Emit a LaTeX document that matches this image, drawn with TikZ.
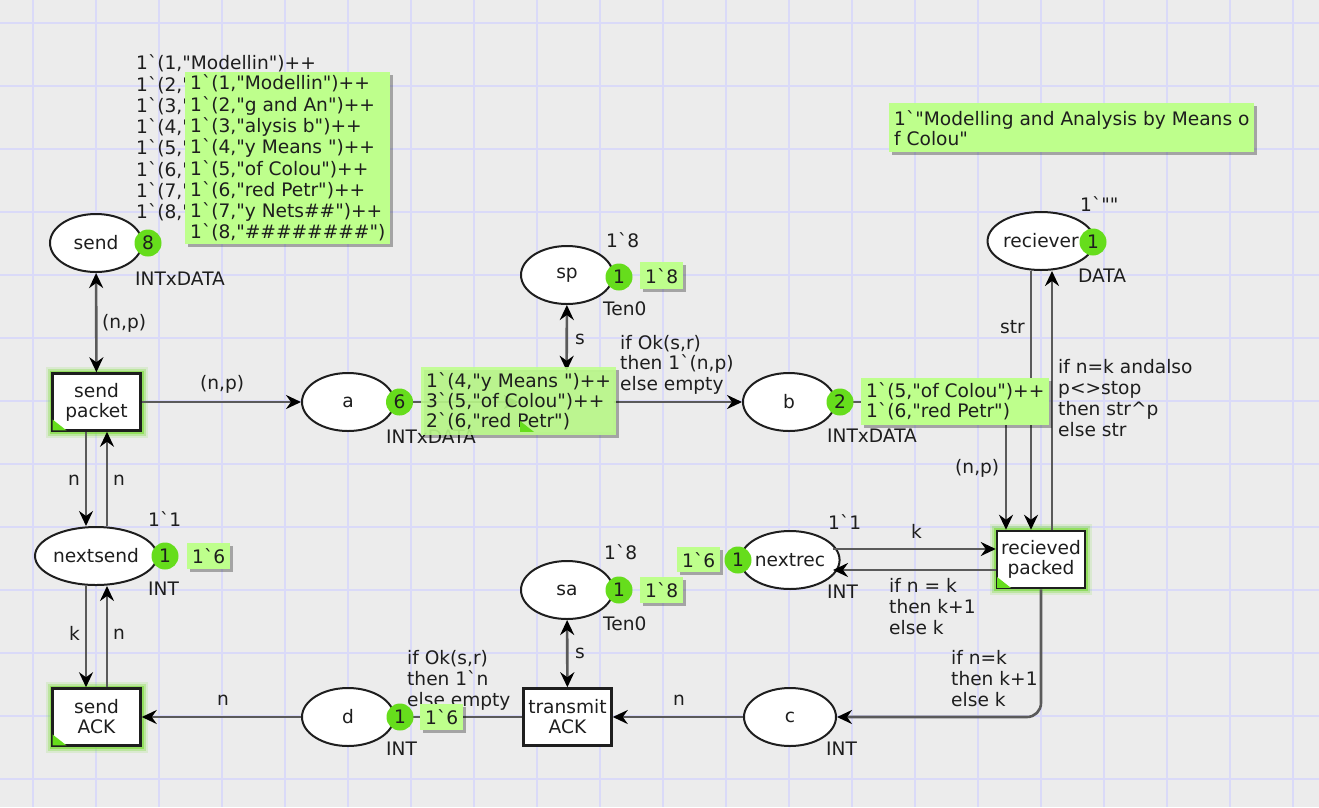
\documentclass[tikz,border=0pt]{standalone}
\usepackage{fontspec}
\setmainfont{DejaVu Sans}[Ligatures=TeXOff]
\usetikzlibrary{arrows.meta,shapes.geometric,calc,shadows}

\definecolor{canvas}{RGB}{236,236,236}
\definecolor{gridline}{RGB}{218,218,248}
\definecolor{arcgray}{RGB}{90,90,90}
\definecolor{tokengreen}{RGB}{102,221,28}
\definecolor{markgreen}{RGB}{190,255,140}
\definecolor{glowgreen}{RGB}{120,220,50}
\definecolor{ink}{RGB}{30,30,30}

\tikzset{
  cpnfont/.style={font=\fontsize{18.6}{#1}\selectfont},
  cpnfont/.default=20,
  place/.style={ellipse, draw=ink, line width=2pt, fill=white,
    minimum width=92pt, minimum height=58pt, inner sep=0pt, cpnfont, text=ink},
  trans/.style={rectangle, draw=ink, line width=2.5pt, fill=white,
    minimum width=88pt, minimum height=57pt, inner sep=0pt, align=center,
    cpnfont, text=ink},
  enabled/.style={
    preaction={draw=glowgreen, line width=14pt, opacity=0.15},
    preaction={draw=glowgreen, line width=10pt, opacity=0.3},
    preaction={draw=glowgreen, line width=6pt, opacity=0.6}},
  token/.style={circle, fill=tokengreen, minimum size=27pt, inner sep=0pt,
    cpnfont, text=ink},
  markbox/.style={fill=markgreen, anchor=north west, inner xsep=5pt,
    inner ysep=0pt, align=left, text=ink,
    drop shadow={shadow xshift=2.5pt, shadow yshift=-2.5pt, fill=black, opacity=0.3}},
  lbl/.style={anchor=north west, inner sep=0pt, yshift=8.3pt, align=left,
    text=ink, execute at begin node=\strut},
  arctip/.tip={Stealth[length=15pt, width=14pt, inset=5pt, color=black]},
  arc/.style={draw=arcgray, line width=2.6pt, -arctip},
  arcboth/.style={draw=arcgray, line width=2.6pt, arctip-arctip},
}

\newcommand{\enabledmark}[1]{%
  \fill[tokengreen] ([shift={(1.3,-1.3)}]#1.south west) -- ++(14,0) -- ++(-14,-11) -- cycle;}

\begin{document}
\begin{tikzpicture}[x=1pt, y=-1pt]
  \useasboundingbox (0,0) rectangle (1319,807);
  % canvas and grid
  \fill[canvas] (0,0) rectangle (1319,807);
  \foreach \gx in {33,96,...,1300} \draw[gridline, line width=2pt] (\gx,0) -- (\gx,807);
  \foreach \gy in {23,86,...,807} \draw[gridline, line width=2pt] (0,\gy) -- (1319,\gy);

  % places
  \node[place] (send) at (96,243) {send};
  \node[place] (sp) at (567,275) {sp};
  \node[place] (a) at (348,402) {a};
  \node[place] (b) at (789,402) {b};
  \node[place] (recv) at (1041,241) {reciever};
  \node[place, minimum width=122pt] (nextsend) at (96,556) {nextsend};
  \node[place] (nextrec) at (790,560) {nextrec};
  \node[place] (sa) at (567,590) {sa};
  \node[place] (d) at (348,717) {d};
  \node[place] (c) at (790,717) {c};

  % transitions
  \node[trans, enabled] (sendpkt) at (96.5,402) {send\\packet};
  \node[trans, enabled] (sendack) at (96.5,717) {send\\ACK};
  \node[trans] (tack) at (567.5,717) {transmit\\ACK};
  \node[trans, enabled] (recpk) at (1041,559.5) {recieved\\packed};
  \node[trans, draw=none, minimum width=93pt, minimum height=60pt] (tpkt) at (566.5,402) {};
  \enabledmark{sendpkt}
  \enabledmark{sendack}
  \enabledmark{recpk}

  % arcs
  \draw[arcboth] (send) -- (sendpkt);
  \draw[arc] (sendpkt) -- (a);
  \draw[arc] (a) -- (tpkt);
  \draw[arc] (tpkt) -- (b);
  \draw[arcboth] (sp) -- (tpkt);
  \draw[arc] (b.east) -| ([xshift=-35pt]recpk.north);
  \draw[arc] ([xshift=-10pt]recv.south) -- ([xshift=-10pt]recpk.north);
  \draw[arc] ([xshift=11pt]recpk.north) -- ([xshift=11pt]recv.south);
  \draw[arc] ($(nextrec.center)+(42.5,-11)$) -- ([yshift=10.5pt]recpk.west);
  \draw[arc] ([yshift=-10.5pt]recpk.west) -- ($(nextrec.center)+(43,10)$);
  \draw[arc, rounded corners=14pt] (recpk.south) |- (c.east);
  \draw[arc] (c) -- (tack);
  \draw[arcboth] (sa) -- (tack);
  \draw[arc] (tack) -- (d);
  \draw[arc] (d) -- (sendack);
  \draw[arc] ([xshift=-10.5pt]sendpkt.south) -- ([xshift=-10pt]nextsend.north);
  \draw[arc] ([xshift=11pt]nextsend.north) -- ([xshift=10.5pt]sendpkt.south);
  \draw[arc] ([xshift=-10pt]nextsend.south) -- ([xshift=-10.5pt]sendack.north);
  \draw[arc] ([xshift=10.5pt]sendack.north) -- ([xshift=11pt]nextsend.south);

  % token counts
  \node[token] (send-tok) at (148,243) {8};
  \node[token] (sp-tok) at (619,277) {1};
  \node[token] (a-tok) at (399.5,402) {6};
  \node[token] (b-tok) at (840,402) {2};
  \node[token] (recv-tok) at (1093,242) {1};
  \node[token] (nextsend-tok) at (165,556) {1};
  \node[token] (nextrec-tok) at (738,560) {1};
  \node[token] (sa-tok) at (619,590) {1};
  \node[token] (d-tok) at (400,717) {1};

  % initial markings
  \node[lbl, cpnfont=21.3] (send-init) at (136,63)
    {1`(1,"Modellin")++\\1`(2,"g and An")++\\1`(3,"alysis b")++\\1`(4,"y Means ")++\\1`(5,"of Colou")++\\1`(6,"red Petr")++\\1`(7,"y Nets\#\#")++\\1`(8,"\#\#\#\#\#\#\#\#")};
  \node[lbl, cpnfont] (sp-init) at (606,241) {1`8};
  \node[lbl, cpnfont] (sa-init) at (604,553) {1`8};
  \node[lbl, cpnfont] (nextsend-init) at (148,520) {1`1};
  \node[lbl, cpnfont] (nextrec-init) at (828,523) {1`1};
  \node[lbl, cpnfont] (recv-init) at (1080,205) {1`""};

  % colour sets
  \node[lbl, cpnfont] (send-type) at (135,280) {INTxDATA};
  \node[lbl, cpnfont] (a-type) at (386,438) {INTxDATA};
  \node[lbl, cpnfont] (b-type) at (827,437) {INTxDATA};
  \node[lbl, cpnfont] (sp-type) at (603,310) {Ten0};
  \node[lbl, cpnfont] (sa-type) at (603,625) {Ten0};
  \node[lbl, cpnfont] (recv-type) at (1078,277) {DATA};
  \node[lbl, cpnfont] (nextsend-type) at (148,590) {INT};
  \node[lbl, cpnfont] (nextrec-type) at (827,593) {INT};
  \node[lbl, cpnfont] (d-type) at (386,750) {INT};
  \node[lbl, cpnfont] (c-type) at (826,750) {INT};

  % arc inscriptions
  \node[lbl, cpnfont] (l-send) at (102,322) {(n,p)};
  \node[lbl, cpnfont] (l-sendpkt) at (200,383) {(n,p)};
  \node[lbl, cpnfont] (l-sp) at (575,339) {s};
  \node[lbl, cpnfont=20.5] (l-tpkt) at (620,343) {if Ok(s,r)\\then 1`(n,p)\\else empty};
  \node[lbl, cpnfont] (l-str) at (1000,328) {str};
  \node[lbl, cpnfont=21.3] (l-recv) at (1058,367) {if n=k andalso\\p<>stop\\then str\textasciicircum p\\else str};
  \node[lbl, cpnfont] (l-b) at (955,467) {(n,p)};
  \node[lbl, cpnfont] (l-k) at (911,532) {k};
  \node[lbl, cpnfont=21] (l-nextrec) at (889,586) {if n = k\\then k+1\\else k};
  \node[lbl, cpnfont=21] (l-c) at (951,658) {if n=k\\then k+1\\else k};
  \node[lbl, cpnfont] (l-tack) at (673,700) {n};
  \node[lbl, cpnfont] (l-sa) at (575,653) {s};
  \node[lbl, cpnfont=21] (l-d) at (407,658) {if Ok(s,r)\\then 1`n\\else empty};
  \node[lbl, cpnfont] (l-sendack) at (217,700) {n};
  \node[lbl, cpnfont] (l-ack-k) at (69,634) {k};
  \node[lbl, cpnfont] (l-ack-n) at (113,634) {n};
  \node[lbl, cpnfont] (l-pkt-n1) at (68,480) {n};
  \node[lbl, cpnfont] (l-pkt-n2) at (113,480) {n};

  % current markings
  \node[markbox, cpnfont=21.3, minimum height=172pt] (send-mark) at (185,72)
    {1`(1,"Modellin")++\\1`(2,"g and An")++\\1`(3,"alysis b")++\\1`(4,"y Means ")++\\1`(5,"of Colou")++\\1`(6,"red Petr")++\\1`(7,"y Nets\#\#")++\\1`(8,"\#\#\#\#\#\#\#\#")};
  \node[markbox, cpnfont, minimum height=27pt] (sp-mark) at (640,262) {1`8};
  \node[markbox, cpnfont, minimum height=68pt, fill opacity=0.88, text opacity=1] (a-mark) at (421,367)
    {1`(4,"y Means ")++\\3`(5,"of Colou")++\\2`(6,"red Petr")};
  \node[markbox, cpnfont, minimum height=47pt] (b-mark) at (861,378)
    {1`(5,"of Colou")++\\1`(6,"red Petr")};
  \node[markbox, cpnfont, minimum height=26pt] (nextsend-mark) at (187,543) {1`6};
  \node[markbox, cpnfont, minimum height=25pt] (nextrec-mark) at (677,547) {1`6};
  \node[markbox, cpnfont, minimum height=26pt] (sa-mark) at (640,577) {1`8};
  \node[markbox, cpnfont, minimum height=26pt] (d-mark) at (420,704) {1`6};
  \node[markbox, cpnfont, minimum height=49pt] (recv-mark) at (889,103)
    {1`"Modelling and Analysis by Means o\\f Colou"};
  \enabledmark{tpkt}
\end{tikzpicture}
\end{document}
